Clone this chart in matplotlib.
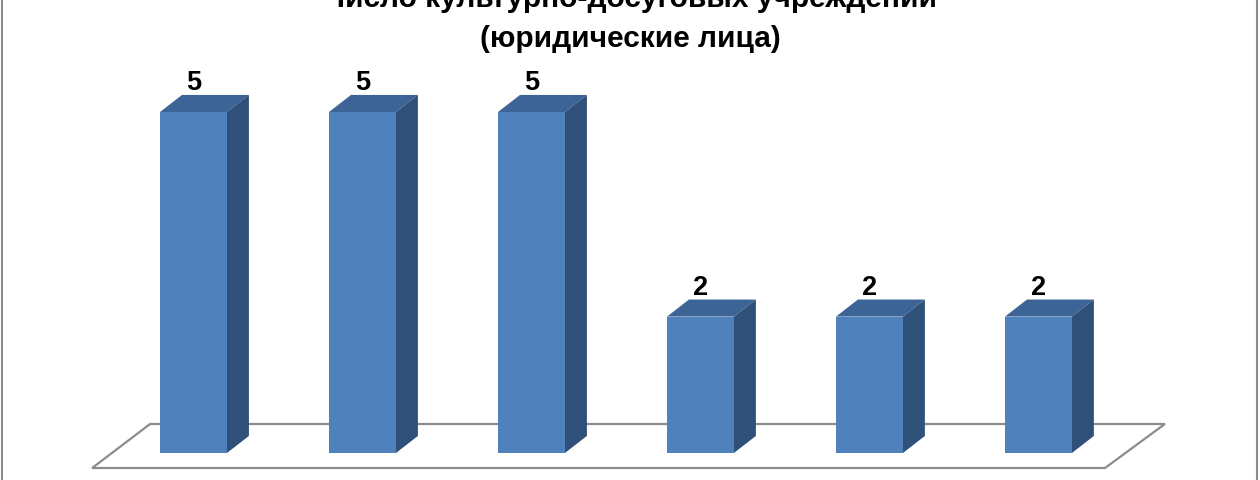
import matplotlib
matplotlib.use('Agg')
from matplotlib import pyplot
from matplotlib.patches import Polygon

# Chart data
categories = ['1', '2', '3', '4', '5', '6']
values = [5, 5, 5, 2, 2, 2]
title_lines = ['Число культурно-досуговых учреждений', '(юридические лица)']

front_color = '#4f81bd'
top_color = '#3c6496'
side_color = '#2f5179'
floor_color = '#8c8c8c'

pyplot.rcParams['font.family'] = ['Liberation Sans', 'DejaVu Sans']

fig = pyplot.figure(figsize=(12.6, 4.8), dpi=100)
axs = fig.add_axes([0, 0, 1, 1])
axs.set_xlim(-1.145, 6.311)
axs.set_ylim(-0.396, 6.642)
axs.axis('off')

# 3D depth offsets (data units)
dx = 0.13
dy = 0.25
width = 0.396

x = list(range(len(values)))

# floor parallelogram
floor = Polygon([(-0.6, -0.22), (5.394, -0.22), (5.748, 0.425), (-0.257, 0.425)],
                closed=True, facecolor='white', edgecolor=floor_color, lw=1.6, zorder=1)
axs.add_patch(floor)

bars = axs.bar(x, values, width=width, color=front_color, zorder=3)

for bar, v in zip(bars, values):
    x0 = bar.get_x()
    x1 = x0 + bar.get_width()
    top = Polygon([(x0, v), (x1, v), (x1 + dx, v + dy), (x0 + dx, v + dy)],
                  closed=True, facecolor=top_color, edgecolor='none', zorder=2)
    side = Polygon([(x1, 0), (x1 + dx, dy), (x1 + dx, v + dy), (x1, v)],
                   closed=True, facecolor=side_color, edgecolor='none', zorder=2)
    axs.add_patch(top)
    axs.add_patch(side)
    axs.text(bar.get_x() + bar.get_width() / 2, v + 0.32, str(v),
             ha='center', va='baseline', fontsize=19.5, fontweight='bold', zorder=4)

# title (first line cut by the top edge, as in the original)
fig.text(0.5, 1 - 7 / 480, title_lines[0], ha='center', va='baseline',
         fontsize=21.5, fontweight='bold')
fig.text(0.5, 1 - 47 / 480, title_lines[1], ha='center', va='baseline',
         fontsize=21.5, fontweight='bold')

# outer chart border
border = pyplot.Rectangle((2 / 1260, -0.1), 1255 / 1260, 1.2, transform=fig.transFigure,
                          fill=False, edgecolor='#8c8c8c', lw=1.5)
fig.patches.append(border)

fig.savefig('out.png', dpi=100)
